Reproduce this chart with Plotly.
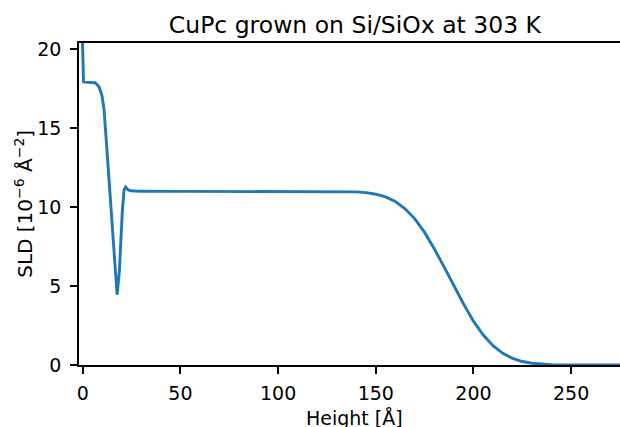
import plotly.graph_objects as go

# Data
height = [-0.2, 0.1, 0.4, 1, 3, 5, 6.3, 7.5, 8.5, 9.9, 10.9, 11.9, 13.1, 14.3,
          15.7, 16.7, 17.6, 18.8, 19.6, 20.3, 21.2, 22.0, 23.0, 24.5, 27, 30,
          50, 100, 130, 140, 145, 150, 155, 160, 165, 170, 175, 180, 185, 190,
          195, 200, 205, 210, 215, 220, 225, 230, 235, 240, 250, 260, 280]
sld = [21.0, 19.0, 17.95, 17.92, 17.92, 17.92, 17.88, 17.75, 17.58, 17.05,
       16.2, 14.5, 12.4, 10.25, 8.1, 6.0, 4.45, 6.0, 8.1, 9.8, 11.1, 11.27,
       11.12, 11.04, 11.02, 11.01, 11.0, 11.0, 11.0, 10.97, 10.92, 10.82,
       10.65, 10.36, 9.9, 9.26, 8.4, 7.35, 6.2, 5.0, 3.85, 2.78, 1.9, 1.22,
       0.74, 0.42, 0.22, 0.11, 0.05, 0.02, 0.004, 0.0, 0.0]

x_ticks = [0, 50, 100, 150, 200, 250]
y_ticks = [0, 5, 10, 15, 20]

title_text = "CuPc grown on Si/SiOx at 303 K"
x_label = "Height [Å]"
y_label = "SLD [10<sup>−6</sup> Å<sup>−2</sup>]"

FONT = "DejaVu Sans"

fig = go.Figure()
fig.add_trace(go.Scatter(x=height, y=sld, mode="lines",
                         line=dict(color="#1f77b4", width=2.9),
                         showlegend=False, hoverinfo="skip"))

axis_common = dict(showgrid=False, zeroline=False, showline=True,
                   linecolor="black", linewidth=1.5, ticks="outside",
                   ticklen=7, tickwidth=1.5, tickcolor="black",
                   tickfont=dict(family=FONT, size=19, color="black"))

fig.update_xaxes(range=[-1.9, 275.0], tickvals=x_ticks, mirror=True,
                 ticklabelstandoff=3, **axis_common)
fig.update_yaxes(range=[0, 20.4], tickvals=y_ticks, mirror=False,
                 ticklabelstandoff=5, **axis_common)

fig.update_layout(
    width=620, height=427,
    margin=dict(l=79, r=0, t=43, b=62),
    paper_bgcolor="white", plot_bgcolor="white",
    title=dict(text=title_text, x=0.51, xref="paper", xanchor="center",
               y=1 - 24.5 / 427, yref="container", yanchor="middle",
               font=dict(family=FONT, size=23.5, color="black")),
    annotations=[
        dict(text=x_label, xref="paper", yref="paper", x=0.51, y=-0.166,
             xanchor="center", yanchor="middle", showarrow=False,
             font=dict(family=FONT, size=19, color="black")),
        dict(text=y_label, xref="paper", yref="paper", x=-0.102, y=0.5,
             xanchor="center", yanchor="middle", showarrow=False,
             textangle=-90,
             font=dict(family=FONT, size=20, color="black")),
    ],
)

fig.write_html("out.html")
